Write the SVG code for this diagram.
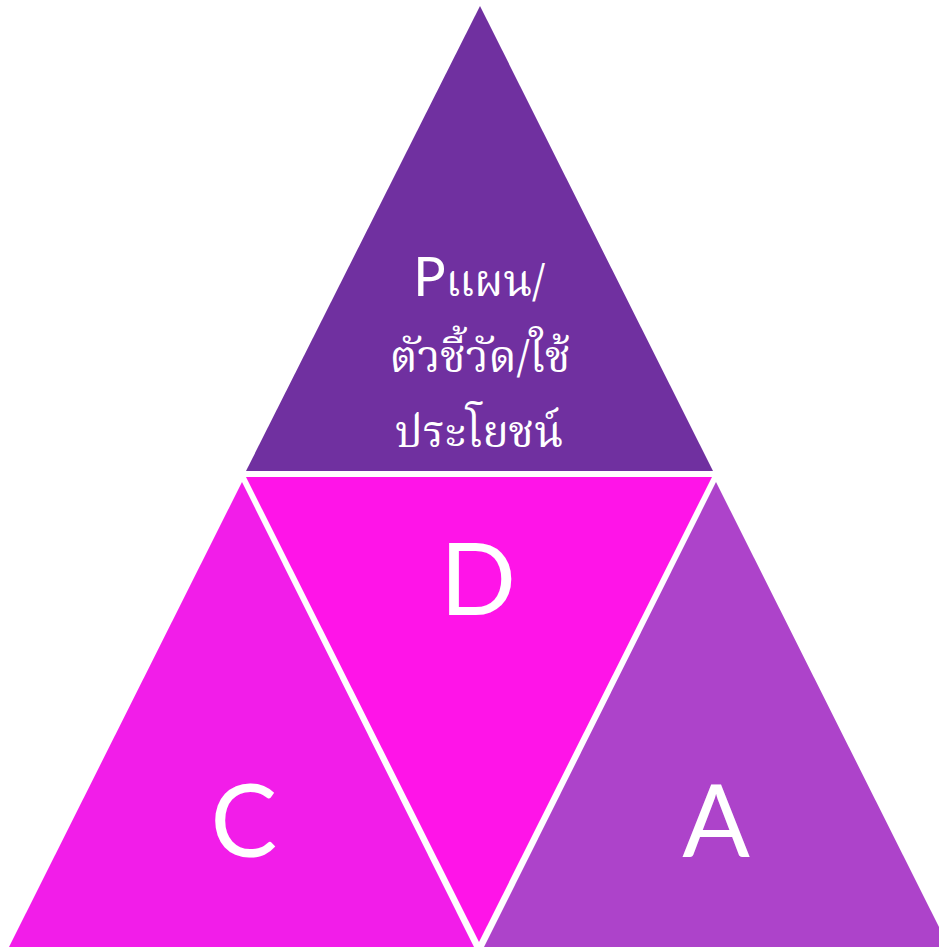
<svg xmlns="http://www.w3.org/2000/svg" width="939" height="947" viewBox="0 0 939 947">
<style>
.lbl{font-family:Lato,"Open Sans","Noto Sans",sans-serif;fill:#fff;text-anchor:middle}
.th{font-family:"Noto Serif Thai","Noto Sans Thai Looped",Kinnari,Norasi,Garuda,Loma,"Noto Sans",sans-serif;fill:#fff;text-anchor:middle;font-size:44px}
</style>
<rect width="939" height="947" fill="#fff"/>
<g id="P">
<polygon points="480,6 246,471 713,471" fill="#7030A0"/>
<text class="lbl" x="479" y="296"><tspan font-size="54">P</tspan><tspan class="th" font-size="44">แผน/</tspan></text>
<text class="th" x="480" y="372">ตัวชี้วัด/ใช้</text>
<text class="th" x="479" y="447">ประโยชน์</text>
</g>
<g id="D">
<polygon points="246,477 712,477 479,942" fill="#FF14E8"/>
<text class="lbl" x="478" y="615" font-size="100">D</text>
</g>
<g id="C">
<polygon points="242,482 9,947 474,947" fill="#F21DE9"/>
<text class="lbl" x="244" y="857" font-size="100">C</text>
</g>
<g id="A">
<polygon points="716,482 484,947 949,947" fill="#AD43CA"/>
<text class="lbl" x="716" y="857" font-size="100">A</text>
</g>
<g id="connectors"/>
</svg>
